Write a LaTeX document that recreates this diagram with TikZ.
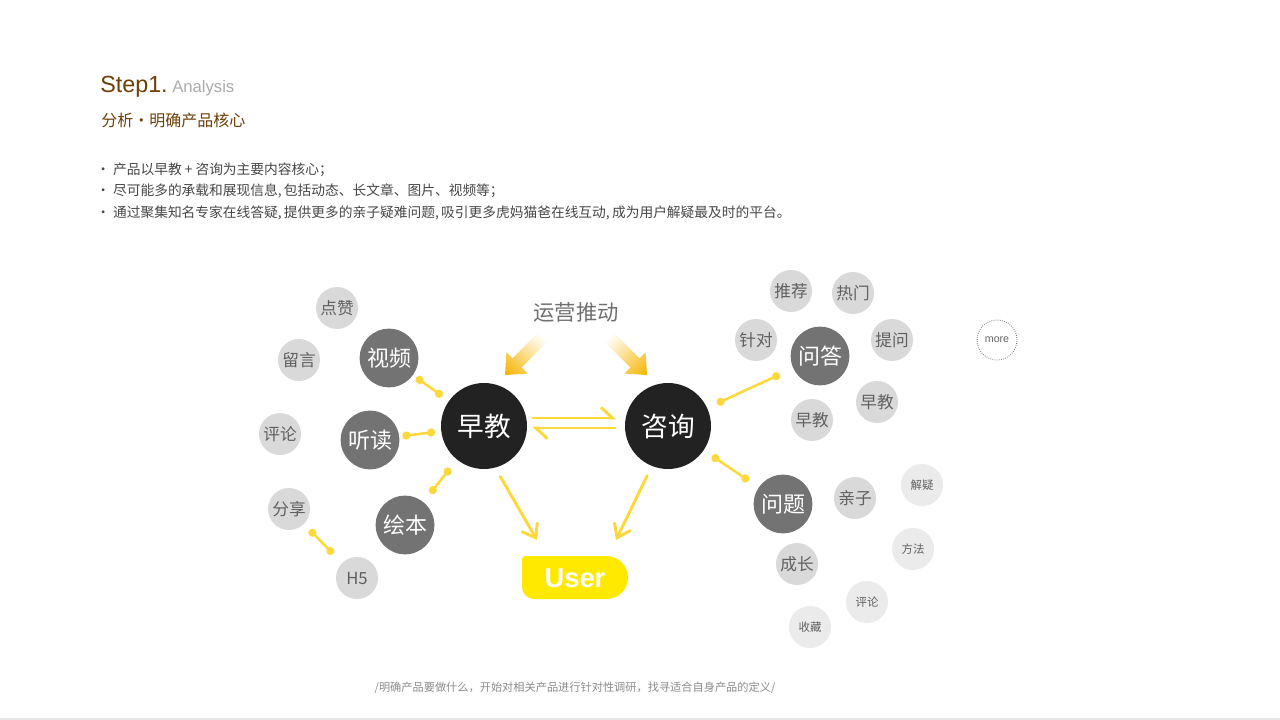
\documentclass[tikz,border=0pt]{standalone}
\usepackage{fontspec}
\setmainfont{Liberation Sans}
\newfontfamily\cjk{Noto Sans CJK SC}
\usetikzlibrary{arrows.meta}
\definecolor{brownT}{HTML}{6E3F07}
\definecolor{grayA}{HTML}{ABABAB}
\definecolor{bulletT}{HTML}{474747}
\definecolor{nodeBlack}{HTML}{222222}
\definecolor{nodeDark}{HTML}{737373}
\definecolor{nodeLight}{HTML}{D9D9D9}
\definecolor{nodePale}{HTML}{EBEBEB}
\definecolor{lightText}{HTML}{606060}
\definecolor{lineYel}{HTML}{FCD83A}
\definecolor{userYel}{HTML}{FFE900}
\definecolor{arrGold}{HTML}{F6B300}
\definecolor{arrMid}{HTML}{FCE27A}
\definecolor{footGray}{HTML}{8C8C8C}
\definecolor{opText}{HTML}{707070}
\tikzset{
  bignode/.style={circle, fill=nodeBlack, minimum size=64.5pt, inner sep=0pt, text=white, font=\cjk\fontsize{20}{20}\selectfont},
  midnode/.style={circle, fill=nodeDark, minimum size=44pt, inner sep=0pt, text=white, font=\cjk\fontsize{16.5}{16.5}\selectfont},
  smallnode/.style={circle, fill=nodeLight, minimum size=31.5pt, inner sep=0pt, text=lightText, font=\cjk\fontsize{12.5}{12.5}\selectfont},
  palenode/.style={circle, fill=nodePale, minimum size=31.5pt, inner sep=0pt, text=lightText, font=\cjk\fontsize{8.6}{8.6}\selectfont},
  dotlink/.style={draw=lineYel, line width=1.9pt, {Circle[length=6pt]}-{Circle[length=6pt]}},
  userarrow/.style={draw=lineYel, line width=2.2pt, line cap=round, -{Straight Barb[length=9pt, width=13pt, line cap=round]}},
  harparrow/.style={draw=lineYel, line width=2.2pt, -{Straight Barb[harpoon, length=8.5pt, width=16pt]}},
  bullettext/.style={anchor=west, inner sep=0pt, text=bulletT, font=\cjk\fontsize{10.3}{10.3}\selectfont},
}
\begin{document}
\begin{tikzpicture}[x=0.75pt, y=-0.75pt]
\useasboundingbox (0,0) rectangle (1280,720);
\fill[white] (0,0) rectangle (1280,720);
\draw[color=black!10, line width=1.2pt] (0,719) -- (1280,719);

% header
\node[anchor=base west, inner sep=0pt, text=brownT, font=\fontsize{17.5}{17.5}\selectfont] (step) at (100,93) {Step1.};
\node[anchor=base west, inner sep=0pt, text=grayA, font=\fontsize{12.5}{12.5}\selectfont] (ana) at (172,93) {Analysis};
\node[anchor=west, inner sep=0pt, text=brownT, font=\cjk\fontsize{12}{12}\selectfont] (sub) at (101,120) {分析·明确产品核心};

\node[bullettext] (b1) at (96,170) {· 产品以早教 + 咨询为主要内容核心；};
\node[bullettext] (b2) at (96,191) {· 尽可能多的承载和展现信息,\,包括动态、长文章、图片、视频等；};
\node[bullettext] (b3) at (96,213) {· 通过聚集知名专家在线答疑,\,提供更多的亲子疑难问题,\,吸引更多虎妈猫爸在线互动,\,成为用户解疑最及时的平台。};

% main nodes
\node[bignode] (zj) at (484,426) {早教};
\node[bignode] (zx) at (668,426) {咨询};
\node[text=opText, font=\cjk\fontsize{16}{16}\selectfont] (op) at (576,312) {运营推动};

% gradient arrows
\begin{scope}[transform canvas={shift={(505,375)}, rotate=225}]
  \shade[left color=white, middle color=arrMid, right color=arrGold]
    (-54,-6.5) -- (-17,-6.5) -- (-17,-15) -- (0,0) -- (-17,15) -- (-17,6.5) -- (-54,6.5) -- cycle;
\end{scope}
\begin{scope}[transform canvas={shift={(647,375)}, rotate=-45}]
  \shade[left color=white, middle color=arrMid, right color=arrGold]
    (-54,-6.5) -- (-17,-6.5) -- (-17,-15) -- (0,0) -- (-17,15) -- (-17,6.5) -- (-54,6.5) -- cycle;
\end{scope}

% double harpoons
\draw[harparrow, shorten <=3.75pt, shorten >=6.5pt] ([yshift=6pt]zj.east) -- ([yshift=6pt]zx.west);
\draw[harparrow, shorten <=6.5pt, shorten >=3.75pt] ([yshift=-1.5pt]zx.west) -- ([yshift=-1.5pt]zj.east);

% user
\fill[userYel] (606.5,556) .. controls (618.37,556) and (628,565.63) .. (628,577.5)
  .. controls (628,589.37) and (618.37,599) .. (606.5,599) -- (534,599)
  .. controls (527.37,599) and (522,593.63) .. (522,587) -- (522,559)
  .. controls (522,557.3) and (523.3,556) .. (525,556) -- cycle;
\node[inner sep=0pt, text=white, font=\bfseries\fontsize{20.5}{20.5}\selectfont] (user) at (575,578) {User};
\coordinate (ua) at (537,540);
\coordinate (ub) at (616,540);
\draw[userarrow, shorten <=7.5pt] (zj.-75) -- (ua);
\draw[userarrow, shorten <=8pt] (zx.-112) -- (ub);

% left cluster
\node[midnode] (sp) at (389,358) {视频};
\node[midnode] (td) at (370,440) {听读};
\node[midnode] (hb) at (405,525) {绘本};
\node[smallnode] (dz) at (337,308) {点赞};
\node[smallnode] (ly) at (299,360) {留言};
\node[smallnode] (pl) at (280,434) {评论};
\node[smallnode] (fx) at (289,509) {分享};
\node[smallnode] (h5) at (357,578) {H5};
\draw[dotlink, shorten <=3pt, shorten >=6pt] (sp) -- (zj);
\draw[dotlink, shorten <=2.25pt, shorten >=4.5pt] (td) -- (zj);
\draw[dotlink, shorten <=8.25pt, shorten >=8.25pt] (hb) -- (zj);
\draw[dotlink, shorten <=6pt, shorten >=9.5pt] (fx) -- (h5);

% right cluster
\node[midnode] (wd) at (820,356) {问答};
\node[smallnode] (tj) at (791,291) {推荐};
\node[smallnode] (rm) at (853,293) {热门};
\node[smallnode] (zd) at (756,340) {针对};
\node[smallnode] (tw) at (892,340) {提问};
\node[smallnode] (zj2) at (877,402) {早教};
\node[smallnode] (zj3) at (812,420) {早教};
\draw[dotlink, shorten <=8pt, shorten >=11pt] (zx) -- (wd);

\node[circle, draw=black!55, line width=0.7pt, dash pattern=on 0.5pt off 1.1pt, minimum size=30pt, inner sep=0pt, text=black!60, font=\fontsize{8}{8}\selectfont] (more) at (997,340) {more};

\node[midnode] (wt) at (783,504) {问题};
\node[smallnode] (qz) at (855,498) {亲子};
\node[smallnode] (cz) at (797,564) {成长};
\node[palenode] (jy) at (922,485) {解疑};
\node[palenode] (ff) at (913,549) {方法};
\node[palenode] (pl2) at (867,602) {评论};
\node[palenode] (sc) at (810,627) {收藏};
\draw[dotlink, shorten <=7.5pt, shorten >=9pt] (zx) -- (wt);

% footer
\node[text=footGray, font=\cjk\fontsize{8.4}{8.4}\selectfont] (foot) at (575,688) {/明确产品要做什么，开始对相关产品进行针对性调研，找寻适合自身产品的定义/};
\end{tikzpicture}
\end{document}
